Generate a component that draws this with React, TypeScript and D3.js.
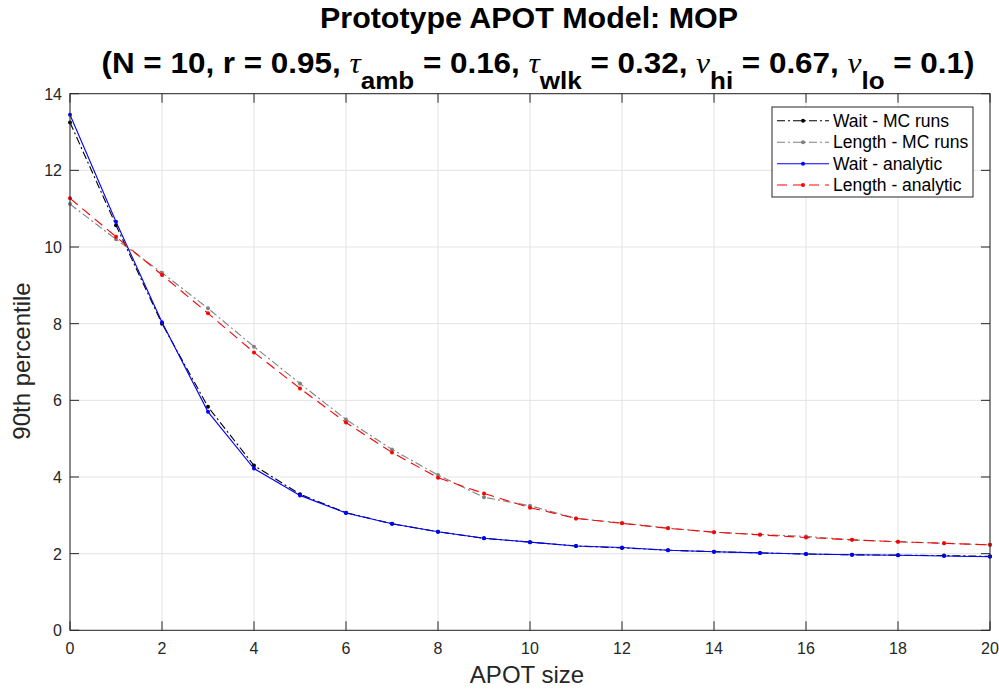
import React from "react";
import * as d3 from "d3";

const xs = [0, 1, 2, 3, 4, 5, 6, 7, 8, 9, 10, 11, 12, 13, 14, 15, 16, 17, 18, 19, 20];
const waitMC = [13.25, 10.57, 8.0, 5.83, 4.3, 3.55, 3.07, 2.78, 2.57, 2.4, 2.3, 2.2, 2.15, 2.09, 2.05, 2.02, 1.99, 1.97, 1.96, 1.95, 1.93];
const lengthMC = [11.12, 10.2, 9.33, 8.4, 7.4, 6.44, 5.5, 4.72, 4.05, 3.47, 3.25, 2.92, 2.8, 2.67, 2.56, 2.5, 2.45, 2.36, 2.31, 2.27, 2.23];
const waitAnalytic = [13.45, 10.66, 8.04, 5.7, 4.22, 3.52, 3.06, 2.78, 2.57, 2.4, 2.3, 2.2, 2.16, 2.09, 2.05, 2.02, 1.99, 1.97, 1.96, 1.94, 1.92];
const lengthAnalytic = [11.27, 10.27, 9.27, 8.27, 7.25, 6.31, 5.42, 4.64, 3.98, 3.57, 3.2, 2.92, 2.79, 2.66, 2.56, 2.49, 2.42, 2.36, 2.31, 2.27, 2.23];
const xTicks = [0, 2, 4, 6, 8, 10, 12, 14, 16, 18, 20];
const yTicks = [0, 2, 4, 6, 8, 10, 12, 14];

const seriesNames = ["Wait - MC runs", "Length - MC runs", "Wait - analytic", "Length - analytic"];
const seriesColors = ["#000000", "#808080", "#0000ff", "#ff0000"];
const seriesDash = ["8,3,2,3", "8,3,2,3", "none", "10,6"];

const W = 999, H = 689;
const L = 70, R = 990, T = 93.7, B = 630.3;
const FONT = "'Liberation Sans', Arial, Helvetica, sans-serif";

export default function App() {
  const x = d3.scaleLinear().domain([0, 20]).range([L, R]);
  const y = d3.scaleLinear().domain([0, 14]).range([B, T]);
  const allSeries = [waitMC, lengthMC, waitAnalytic, lengthAnalytic];
  const line = d3.line<number>().x((_, i) => x(xs[i])).y((d) => y(d));

  const legX = 772, legY = 107, legW = 201, legH = 90;
  const rowY = [120.7, 142.3, 163.7, 185];

  const greek = { fontFamily: "'Liberation Serif', 'Times New Roman', serif", fontStyle: "italic", fontWeight: "normal" } as const;

  return (
    <svg width={W} height={H} style={{ position: "absolute", left: 0, top: 0, background: "#fff" }} fontFamily={FONT}>
      <rect x={0} y={0} width={W} height={H} fill="#fff" />
      {/* grid */}
      {xTicks.map((t) => (
        <line key={"gx" + t} x1={x(t)} x2={x(t)} y1={T} y2={B} stroke="#e3e3e3" strokeWidth={1} />
      ))}
      {yTicks.map((t) => (
        <line key={"gy" + t} x1={L} x2={R} y1={y(t)} y2={y(t)} stroke="#e3e3e3" strokeWidth={1} />
      ))}
      {/* ticks */}
      {xTicks.map((t) => (
        <g key={"tx" + t}>
          <line x1={x(t)} x2={x(t)} y1={B} y2={B - 9} stroke="#262626" />
          <line x1={x(t)} x2={x(t)} y1={T} y2={T + 9} stroke="#262626" />
          <text x={x(t)} y={654} textAnchor="middle" fontSize={16} fill="#262626">{t}</text>
        </g>
      ))}
      {yTicks.map((t) => (
        <g key={"ty" + t}>
          <line x1={L} x2={L + 9} y1={y(t)} y2={y(t)} stroke="#262626" />
          <line x1={R} x2={R - 9} y1={y(t)} y2={y(t)} stroke="#262626" />
          <text x={62} y={y(t) + 6} textAnchor="end" fontSize={16} fill="#262626">{t}</text>
        </g>
      ))}
      {/* series */}
      {allSeries.map((s, k) => (
        <g key={"s" + k}>
          <path d={line(s) || ""} fill="none" stroke={seriesColors[k]} strokeWidth={1.1} strokeDasharray={seriesDash[k]} />
          {s.map((v, i) => (
            <circle key={i} cx={x(xs[i])} cy={y(v)} r={2} fill={seriesColors[k]} />
          ))}
        </g>
      ))}
      {/* axes box */}
      <rect x={L} y={T} width={R - L} height={B - T} fill="none" stroke="#262626" strokeWidth={1} />
      {/* legend */}
      <rect x={legX} y={legY} width={legW} height={legH} fill="#fff" stroke="#262626" strokeWidth={1} />
      {seriesNames.map((n, k) => (
        <g key={"l" + k}>
          <line x1={777} x2={829} y1={rowY[k]} y2={rowY[k]} stroke={seriesColors[k]} strokeWidth={1.1} strokeDasharray={seriesDash[k]} />
          <circle cx={803} cy={rowY[k]} r={2} fill={seriesColors[k]} />
          <text x={833} y={rowY[k] + 6} fontSize={17.5} fill="#000">{n}</text>
        </g>
      ))}
      {/* labels */}
      <text x={527} y={683} textAnchor="middle" fontSize={24} fill="#262626">APOT size</text>
      <text transform="translate(30,361) rotate(-90)" textAnchor="middle" fontSize={24} fill="#262626">90th percentile</text>
      {/* title */}
      <text x={529} y={28} textAnchor="middle" fontSize={29} fontWeight="bold" fill="#000" textLength={418} lengthAdjust="spacingAndGlyphs">Prototype APOT Model: MOP</text>
      <text x={538} y={73} textAnchor="middle" fontSize={29} fontWeight="bold" fill="#000" textLength={873} lengthAdjust="spacingAndGlyphs">
        <tspan>{"(N = 10, r = 0.95, "}</tspan>
        <tspan {...greek}>{"τ"}</tspan>
        <tspan fontSize={24} dy={16}>{"amb"}</tspan>
        <tspan dy={-16}>{" = 0.16, "}</tspan>
        <tspan {...greek}>{"τ"}</tspan>
        <tspan fontSize={24} dy={16}>{"wlk"}</tspan>
        <tspan dy={-16}>{" = 0.32, "}</tspan>
        <tspan {...greek}>{"ν"}</tspan>
        <tspan fontSize={24} dy={16}>{"hi"}</tspan>
        <tspan dy={-16}>{" = 0.67, "}</tspan>
        <tspan {...greek}>{"ν"}</tspan>
        <tspan fontSize={24} dy={16}>{"lo"}</tspan>
        <tspan dy={-16}>{" = 0.1)"}</tspan>
      </text>
    </svg>
  );
}
